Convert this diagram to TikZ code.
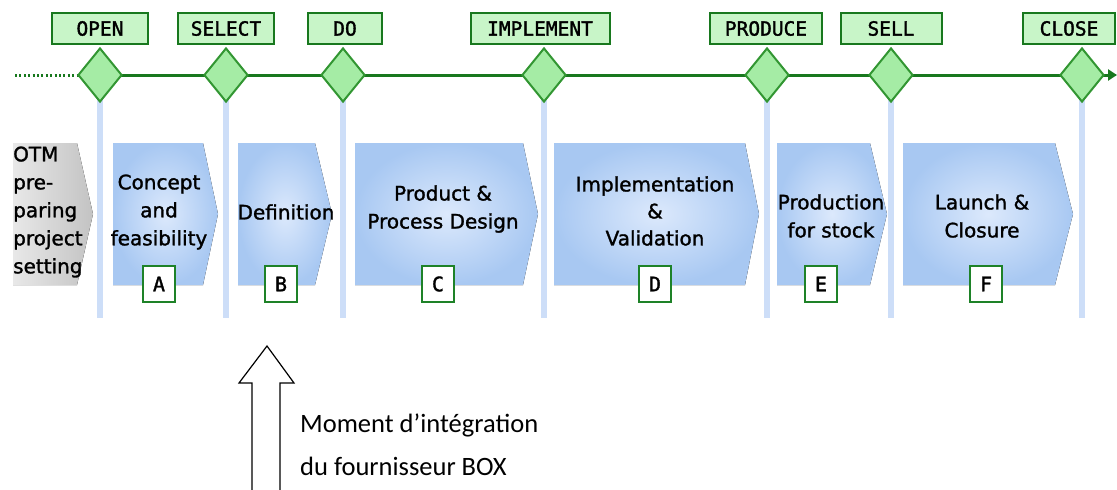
\documentclass[tikz,border=0pt]{standalone}
\usepackage{fontspec}
\setmainfont{DejaVu Sans}
\newfontfamily\monofnt[FakeBold=1.6]{DejaVu Sans Mono}
\newfontfamily\phasefnt[FakeBold=1.4]{DejaVu Sans}
\newfontfamily\notefnt{Carlito}
\usetikzlibrary{shapes.geometric,arrows.meta}
\definecolor{tlgreen}{RGB}{24,120,30}
\definecolor{lblfill}{RGB}{200,245,200}
\definecolor{dmfill}{RGB}{165,236,165}
\definecolor{dmdraw}{RGB}{50,150,50}
\definecolor{vline}{RGB}{205,222,248}
\definecolor{chevdark}{RGB}{168,200,242}
\definecolor{chevlight}{RGB}{220,233,252}
\definecolor{otmdark}{RGB}{195,195,195}
\definecolor{otmlight}{RGB}{232,232,232}
\definecolor{lettergreen}{RGB}{30,130,40}
\tikzset{
  gatelabel/.style={draw=tlgreen, line width=2pt, fill=lblfill, minimum height=31pt, inner sep=0pt, font=\monofnt\fontsize{19.5}{19.5}\selectfont},
  gatediamond/.style={diamond, draw=dmdraw, line width=2pt, fill=dmfill, minimum width=44pt, minimum height=54pt, inner sep=0pt},
  gatebar/.style={draw=vline, line width=6pt},
  chevron/.style={shade, shading=radial, inner color=chevlight, outer color=chevdark},
  otmchev/.style={left color=otmlight, right color=otmdark},
  phasetext/.style={align=center, font=\phasefnt\fontsize{20}{28}\selectfont, text=black},
  letterbox/.style={draw=lettergreen, line width=2.2pt, fill=white, minimum width=32pt, minimum height=36pt, inner sep=0pt, font=\monofnt\fontsize{20}{20}\selectfont},
  notetext/.style={anchor=west, font=\notefnt\fontsize{26.5}{26.5}\selectfont, inner sep=0pt}
}
\begin{document}
\begin{tikzpicture}[x=1pt,y=-1pt]
\useasboundingbox (0,0) rectangle (1117,490);
% vertical bars
\foreach \n/\x in {open/100,select/226,do/343,impl/544,prod/767,sell/891,close/1082}{
  \coordinate (\n top) at (\x,100);
  \coordinate (\n bot) at (\x,318);
  \draw[gatebar] (\n top) -- (\n bot);
}
% timeline
\coordinate (tldot) at (15,75);
\coordinate (tlstart) at (78,75);
\coordinate (tlend) at (1117,75);
\draw[tlgreen, line width=3pt, dash pattern=on 2pt off 2.4pt] (tldot) -- (tlstart);
\draw[tlgreen, line width=3pt, -{Triangle[length=9pt,width=11pt]}] (tlstart) -- (tlend);
% diamonds and labels
\foreach \n/\x/\lx/\w/\t in {open/100/100/96/OPEN,select/226/226/96/SELECT,do/343/345/74/DO,impl/544/540/139/IMPLEMENT,prod/767/766/112/PRODUCE,sell/891/891/101/SELL,close/1082/1069/92/CLOSE}{
  \node[gatediamond] (\n d) at (\x,75) {};
  \node[gatelabel, minimum width=\w pt] (\n l) at (\lx,28.5) {\t};
}
% chevrons
\fill[otmchev] (13,143) -- (77,143) -- (93,214) -- (77,285) -- (13,285) -- cycle;
\fill[chevron] (113,143) -- (203,143) -- (218,214) -- (203,285) -- (113,285) -- cycle;
\fill[chevron] (238,143) -- (315,143) -- (332,214) -- (315,285) -- (238,285) -- cycle;
\fill[chevron] (355,143) -- (523,143) -- (538,214) -- (523,285) -- (355,285) -- cycle;
\fill[chevron] (554,143) -- (745,143) -- (759,214) -- (745,285) -- (554,285) -- cycle;
\fill[chevron] (777,143) -- (870,143) -- (887,214) -- (870,285) -- (777,285) -- cycle;
\fill[chevron] (903,143) -- (1055,143) -- (1073,214) -- (1055,285) -- (903,285) -- cycle;
% phase texts
\node[phasetext, align=left, anchor=west, inner sep=0pt] (otm) at (13,212) {OTM\\pre-\\paring\\project\\setting};
\node[phasetext] (pa) at (159,212) {Concept\\and\\feasibility};
\node[phasetext] (pb) at (286,212) {Definition};
\node[phasetext] (pc) at (443,209) {Product \&\\Process Design};
\node[phasetext, font=\phasefnt\fontsize{20}{27}\selectfont] (pd) at (655,211) {Implementation\\\&\\Validation};
\node[phasetext] (pe) at (831,216) {Production\\for stock};
\node[phasetext] (pf) at (982,216) {Launch \&\\Closure};
% letter boxes
\node[letterbox] (la) at (159,284) {A};
\node[letterbox] (lb) at (281,284) {B};
\node[letterbox] (lc) at (438,284) {C};
\node[letterbox] (ld) at (655,284) {D};
\node[letterbox] (le) at (821,284) {E};
\node[letterbox] (lf) at (986,284) {F};
% supplier arrow
\coordinate (arrtip) at (267,346);
\draw[black, line width=1.2pt, line join=miter] (252,492) -- (252,383) -- (239,383) -- (arrtip) -- (294,383) -- (280,383) -- (280,492);
\node[notetext] (note1) at (300,425) {Moment d’intégration};
\node[notetext] (note2) at (300,466) {du fournisseur BOX};
\end{tikzpicture}
\end{document}
